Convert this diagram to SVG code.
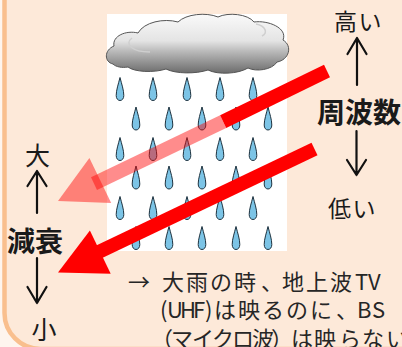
<svg xmlns="http://www.w3.org/2000/svg" width="402" height="347" viewBox="0 0 402 347">
  <defs>
    <linearGradient id="cloudFill" x1="0" y1="12" x2="0" y2="76" gradientUnits="userSpaceOnUse">
      <stop offset="0" stop-color="#FBFBFB"/>
      <stop offset="0.45" stop-color="#E4E4E4"/>
      <stop offset="0.62" stop-color="#B8B8B8"/>
      <stop offset="1" stop-color="#626262"/>
    </linearGradient>
    <path id="drop" d="M0,-11.5 C1.6,-5 3.8,1 3.8,6.5 C3.8,9.6 2.1,11.5 0,11.5 C-2.1,11.5 -3.8,9.6 -3.8,6.5 C-3.8,1 -1.6,-5 0,-11.5 Z"/>
  </defs>
  <style>
    .jp { font-family: "Noto Sans CJK JP", "Noto Sans", sans-serif; fill: #1A1A1A; }
    .lbl { font-size: 23px; letter-spacing: 1.5px; }
    .mark { font-size: 25px; }
    .big { font-size: 28px; font-weight: bold; }
    .note { font-size: 22px; fill: #262626; }
    .drop { fill: #7CC4E6; stroke: #1E3340; stroke-width: 1; }
    .axis { fill: none; stroke: #111; stroke-width: 2.2; stroke-linecap: round; stroke-linejoin: round; }
    .ray { fill: #FF0000; }
    .ray-faint { fill: #FF0000; fill-opacity: 0.45; }
  </style>

  <!-- panel background with rounded orange frame -->
  <rect x="0" y="0" width="402" height="347" fill="#FEF5EE"/>
  <rect x="4.5" y="-60" width="460" height="409" rx="36" ry="36" fill="#FDE9D9" stroke="#F9BF8E" stroke-width="4.5"/>

  <!-- rain picture -->
  <g id="rain-picture">
    <rect x="107" y="14" width="180" height="237" fill="#FFFFFF"/>
    <g id="drops">
      <use href="#drop" class="drop" x="120" y="89"/>
      <use href="#drop" class="drop" x="153" y="89"/>
      <use href="#drop" class="drop" x="187" y="89"/>
      <use href="#drop" class="drop" x="220" y="89"/>
      <use href="#drop" class="drop" x="253" y="89"/>
      <use href="#drop" class="drop" x="136" y="118.5"/>
      <use href="#drop" class="drop" x="169" y="118.5"/>
      <use href="#drop" class="drop" x="202" y="118.5"/>
      <use href="#drop" class="drop" x="236" y="118.5"/>
      <use href="#drop" class="drop" x="268" y="118.5"/>
      <use href="#drop" class="drop" x="120" y="149"/>
      <use href="#drop" class="drop" x="153" y="149"/>
      <use href="#drop" class="drop" x="187" y="149"/>
      <use href="#drop" class="drop" x="220" y="149"/>
      <use href="#drop" class="drop" x="253" y="149"/>
      <use href="#drop" class="drop" x="136" y="177.5"/>
      <use href="#drop" class="drop" x="169" y="177.5"/>
      <use href="#drop" class="drop" x="202" y="177.5"/>
      <use href="#drop" class="drop" x="236" y="177.5"/>
      <use href="#drop" class="drop" x="268" y="177.5"/>
      <use href="#drop" class="drop" x="120" y="208"/>
      <use href="#drop" class="drop" x="153" y="208"/>
      <use href="#drop" class="drop" x="187" y="208"/>
      <use href="#drop" class="drop" x="220" y="208"/>
      <use href="#drop" class="drop" x="253" y="208"/>
      <use href="#drop" class="drop" x="136" y="238"/>
      <use href="#drop" class="drop" x="169" y="238"/>
      <use href="#drop" class="drop" x="202" y="238"/>
      <use href="#drop" class="drop" x="236" y="238"/>
      <use href="#drop" class="drop" x="268" y="238"/>
    </g>
    <g id="cloud">
      <path d="M113,64 C104,62 104,50 114,46 C112,36 126,30 138,33 C144,22 164,18 178,22 C186,14 206,12 218,17 C228,12 248,14 254,22 C268,20 288,28 283,40 C293,46 289,60 277,62 C272,70 256,72 248,68 C238,74 218,75 208,70 C196,74 176,74 166,69 C154,73 134,72 128,67 C122,68 116,67 113,64 Z" fill="url(#cloudFill)" stroke="#555" stroke-width="1"/>
      <path d="M150,52 C132,52 124,44 132,38" fill="none" stroke="#CFCFCF" stroke-width="1.5"/>
      <path d="M256,24 C266,26 268,33 262,36" fill="none" stroke="#CFCFCF" stroke-width="1.5"/>
    </g>
  </g>

  <!-- red signal rays -->
  <g id="connectors">
    <g id="ray-high">
      <polygon class="ray-faint" points="58,201 89.4,158.1 111.2,203.1"/>
      <polygon class="ray-faint" points="91,177.3 97,189.9 226.2,128 220.1,115.3"/>
      <polygon class="ray" points="220.1,115.3 226.2,128 330,77.3 324,64.7"/>
    </g>
    <g id="ray-low">
      <polygon class="ray" points="58,272.5 89.9,230.5 110.7,273.7"/>
      <polygon class="ray" points="92,247.5 98,260 317.5,155.3 311.5,142.7"/>
    </g>
    <g id="axis-arrows">
      <path class="axis" d="M357,38 V85 M347.5,54 L357,38 L366.5,54"/>
      <path class="axis" d="M356.5,131 V175 M347,160 L356.5,175 L366,160"/>
      <path class="axis" d="M37,171 V213 M27.5,186 L37,171 L46.5,186"/>
      <path class="axis" d="M37,258 V303 M27.5,287 L37,303 L46.5,287"/>
    </g>
  </g>

  <!-- frequency axis labels -->
  <g id="freq-high"><text class="jp lbl" x="358.5" y="29.5" text-anchor="middle">高い</text></g>
  <g id="freq-title"><text class="jp big" x="359" y="123" text-anchor="middle">周波数</text></g>
  <g id="freq-low"><text class="jp lbl" x="352.5" y="217" text-anchor="middle">低い</text></g>

  <!-- attenuation axis labels -->
  <g id="atten-high"><text class="jp mark" x="37.5" y="164.5" text-anchor="middle">大</text></g>
  <g id="atten-title"><text class="jp big" x="35" y="252" text-anchor="middle">減衰</text></g>
  <g id="atten-low"><text class="jp mark" x="44" y="339" text-anchor="middle">小</text></g>

  <!-- note -->
  <g id="note">
    <text class="jp note" y="289.5"><tspan x="128">→</tspan><tspan x="162 186 210 234 261 282 306 330 355 368">大雨の時、地上波TV</tspan></text>
    <text class="jp note" y="318"><tspan x="160 167 180 193 205 214 238 262 286 310 336 357 372">(UHF)は映るのに、BS</tspan></text>
    <text class="jp note" y="346.5"><tspan x="151 171 192 212 232 252 271 291 314 339 362 386">（マイクロ波）は映らない</tspan></text>
  </g>
</svg>
